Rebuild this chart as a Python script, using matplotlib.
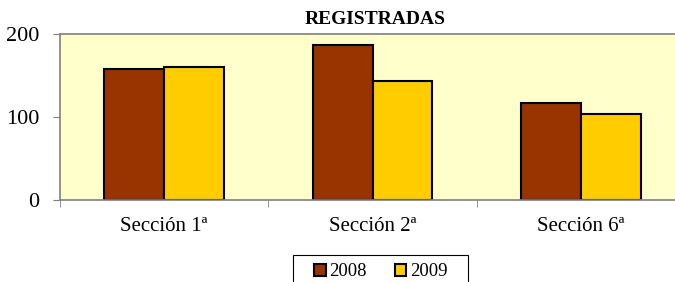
import numpy as np
import matplotlib.pyplot as plt
import matplotlib.patches as mpatches

categories = ["Sección 1ª", "Sección 2ª", "Sección 6ª"]
years = ["2008", "2009"]
v2008 = [158, 187, 117]
v2009 = [160, 143, 104]
colors = ["#993300", "#FFCC00"]

plt.rcParams['font.family'] = ['Liberation Serif', 'DejaVu Serif']

fig = plt.figure(figsize=(6.75, 2.82), dpi=100)
ax = fig.add_axes([60/675, 82/282, 625/675, 166/282])
ax.set_facecolor("#FFFFCC")

x = np.arange(len(categories))
w = 0.288
ax.bar(x - w/2, v2008, w, color=colors[0], edgecolor="black", linewidth=1.5, label=years[0])
ax.bar(x + w/2, v2009, w, color=colors[1], edgecolor="black", linewidth=1.5, label=years[1])

ax.set_xlim(-0.5, 2.5)
ax.set_ylim(0, 200)
ax.set_yticks([0, 100, 200])
ax.tick_params(axis='y', labelsize=16, length=5, color="#808080", pad=10)
ax.set_xticks(x)
ax.set_xticklabels(categories, fontsize=15)
ax.tick_params(axis='x', which='major', length=0, pad=12)
ax.set_xticks([-0.5, 0.5, 1.5, 2.5], minor=True)
ax.tick_params(axis='x', which='minor', length=5, color="#808080")

for s in ["left", "bottom", "top"]:
    ax.spines[s].set_color("#808080")
    ax.spines[s].set_linewidth(1.2)
ax.spines["right"].set_visible(False)

fig.text(375/675, 1 - 20/282, "REGISTRADAS", ha="center", va="center",
         fontsize=14, fontweight="bold")

# legend frame drawn by hand (runs off the bottom edge like the original)
fig.patches.append(mpatches.Rectangle((293/675, -0.05), 175/675, 1 - 255/282 + 0.05,
                                      transform=fig.transFigure, facecolor="white",
                                      edgecolor="black", linewidth=0.8))
handles = [mpatches.Patch(facecolor=c, edgecolor="black", linewidth=1.5, label=y)
           for c, y in zip(colors, years)]
leg = fig.legend(handles=handles, loc="center", bbox_to_anchor=(381/675, 1 - 272/282),
                 ncol=2, fontsize=13.5, frameon=False, handlelength=0.6,
                 handleheight=0.6, handletextpad=0.2, columnspacing=1.5,
                 borderpad=0, borderaxespad=0)

fig.savefig("out.png", dpi=100)
